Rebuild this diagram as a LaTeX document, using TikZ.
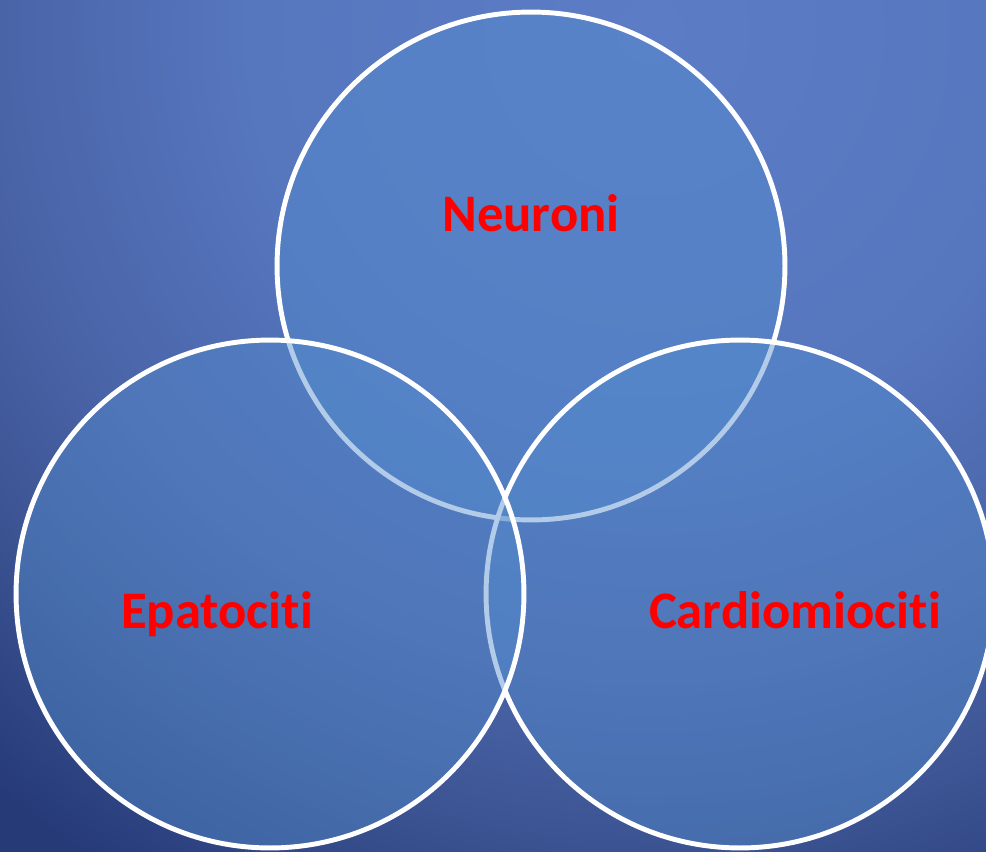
\documentclass[tikz,border=0pt]{standalone}
\usepackage{fontspec}
\setmainfont{Carlito}[Ligatures=NoCommon]
\definecolor{bgtop}{HTML}{5C7CC6}
\definecolor{bgupper}{HTML}{5676BE}
\definecolor{bgmid}{HTML}{4A64A8}
\definecolor{bglow}{HTML}{3D5594}
\definecolor{bgedge}{HTML}{263A78}
\definecolor{ringfill}{HTML}{548CCD}
\definecolor{labelred}{HTML}{FF0000}
\pgfdeclareradialshading{bgglow}{\pgfpoint{0bp}{0bp}}{color(0bp)=(bgtop); color(10bp)=(bgupper); color(16.25bp)=(bgmid); color(20bp)=(bglow); color(25bp)=(bgedge); color(50bp)=(bgedge)}
\begin{document}
\begin{tikzpicture}[
    x=0.02cm, y=-0.02cm,
    ring/.style={circle, draw=white, line width=2.8pt, fill=ringfill, fill opacity=0.45, minimum size=10.16cm, inner sep=0pt},
    celltype/.style={text=labelred, font=\fontsize{30}{36}\selectfont\bfseries, anchor=base, inner sep=0pt}
]
\useasboundingbox (0,0) rectangle (986,851);
% Background (page edge crops it)
\fill[bgedge] (-20,-20) rectangle (1006,871);
\shade[shading=bgglow] (650,30) circle[radius=1000];
% Circles: top first, then right, then left
\node[ring] (neuroni) at (531,266) {};
\node[ring] (cardio) at (740,594) {};
\node[ring] (epato) at (270,594) {};
% Labels
\node[celltype] (neuronilabel) at (531,231) {Neuroni};
\node[celltype] (epatolabel) at (217,628) {Epatociti};
\node[celltype] (cardiolabel) at (795,628) {Cardiomiociti};
\end{tikzpicture}
\end{document}
